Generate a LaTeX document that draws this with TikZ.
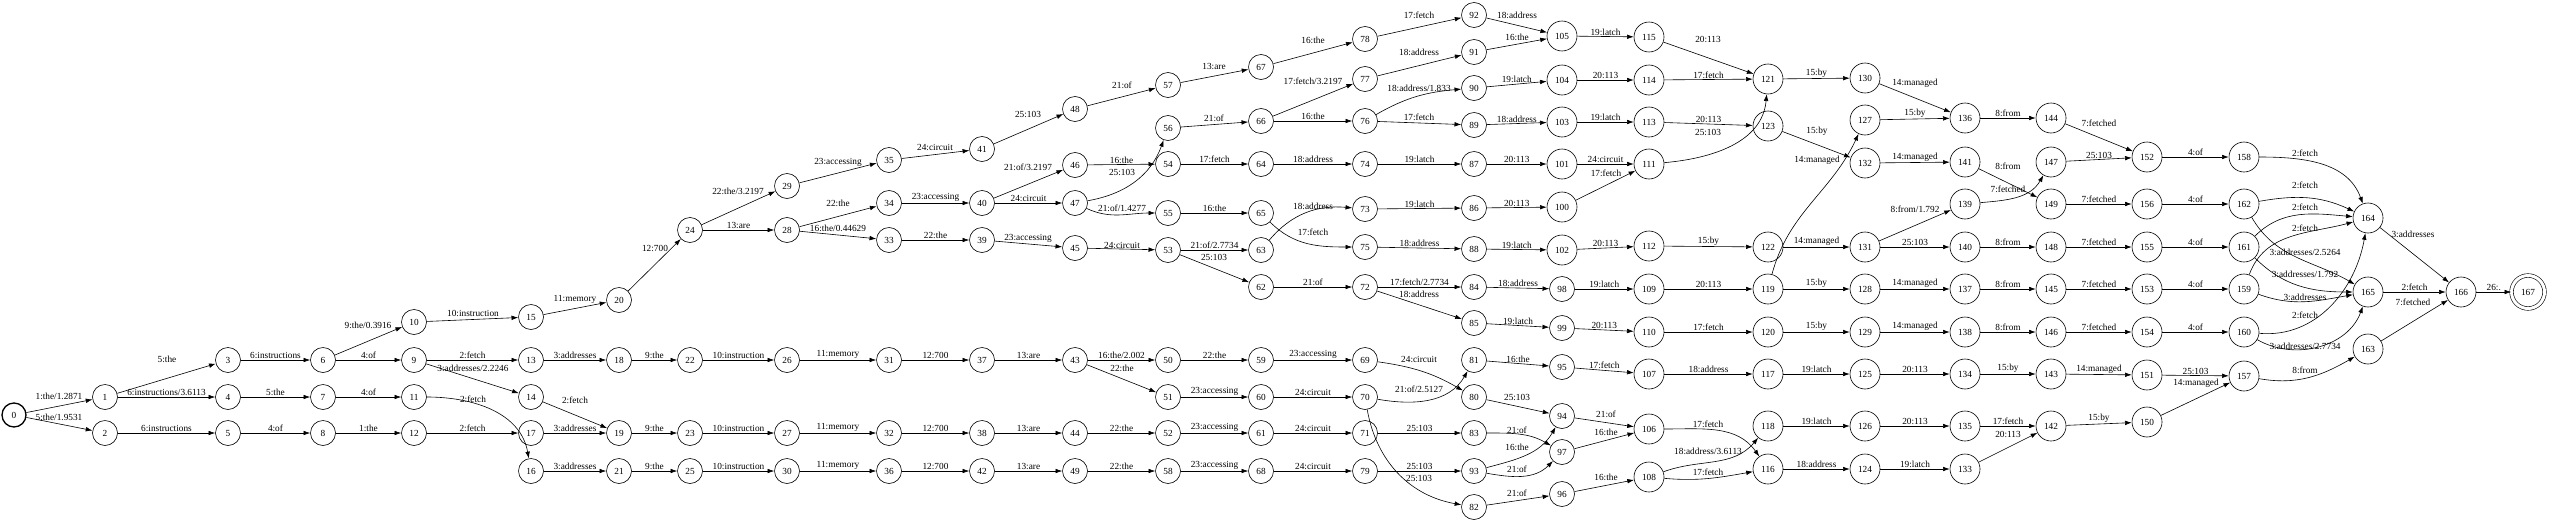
\documentclass[tikz,border=0pt]{standalone}
\usepackage{fontspec}
\setmainfont{Liberation Serif}
\usetikzlibrary{arrows.meta}
\begin{document}
\begin{tikzpicture}[x=1pt,y=1pt,>={Latex[length=6.7pt,width=4.6pt]},line width=0.6pt,
  st/.style={draw,circle,inner sep=0pt,minimum size=25pt,font=\fontsize{9.3}{11}\selectfont},
  lbl/.style={inner sep=1pt,font=\fontsize{9.3}{11}\selectfont}]
\useasboundingbox (0,0) rectangle (2550,-530);
\node[st,minimum size=24pt,line width=1.3pt] (s0) at (14,-415) {0};
\foreach \k/\x/\y in {1/105/397, 2/105/433, 3/228/360, 4/228/397, 5/228/433, 6/323/360, 7/323/397, 8/323/433,
  9/414/360, 10/414/322, 11/414/397, 12/414/433, 13/531/360, 14/531/397, 15/531/317, 16/531/471, 17/531/433,
  18/619/360, 19/619/433, 20/619/300, 21/619/471, 22/690/360, 23/690/433, 24/690/230, 25/690/471,
  26/787/360, 27/787/433, 28/787/230, 29/787/186, 30/787/471, 31/889/360, 32/889/433, 33/889/240, 34/889/203,
  35/889/160, 36/889/471, 37/982/360, 38/982/433, 39/982/240, 40/982/203, 41/982/149, 42/982/471,
  43/1075/360, 44/1075/433, 45/1075/248, 46/1075/165, 47/1075/203, 48/1075/109, 49/1075/471,
  50/1168/360, 51/1168/397, 52/1168/433, 53/1168/250, 54/1168/164, 55/1168/213, 56/1168/128, 57/1168/85, 58/1168/471,
  59/1261/360, 60/1261/397, 61/1261/433, 62/1261/287, 63/1261/250, 64/1261/164, 65/1261/213, 66/1261/121, 67/1261/67, 68/1261/471,
  69/1365/360, 70/1365/397, 71/1365/433, 72/1365/287, 73/1365/209, 74/1365/164, 75/1365/247, 76/1365/121, 77/1365/79, 78/1365/39, 79/1365/471,
  80/1474/397, 81/1474/360, 82/1474/507, 83/1474/433, 84/1474/287, 85/1474/323, 86/1474/208, 87/1474/164, 88/1474/249,
  89/1474/125, 90/1474/88, 91/1474/52, 92/1474/15, 93/1474/471,
  94/1562/416, 95/1562/367, 96/1562/494, 97/1562/452, 98/1562/289, 99/1562/328, 100/1562/207, 101/1562/164, 102/1562/250,
  103/1562/122, 104/1562/80, 105/1562/36,
  106/1649/429, 107/1649/374, 108/1649/477, 109/1649/289, 110/1649/332, 111/1649/164, 112/1649/246, 113/1649/122, 114/1649/80, 115/1649/37,
  116/1768/469, 117/1768/374, 118/1768/426, 119/1768/289, 120/1768/332, 121/1768/79, 122/1768/247, 123/1768/126,
  124/1865/469, 125/1865/374, 126/1865/426, 127/1865/120, 128/1865/289, 129/1865/332, 130/1865/78, 131/1865/247, 132/1865/163,
  133/1965/469, 134/1965/374, 135/1965/426, 136/1965/118, 137/1965/289, 138/1965/332, 139/1965/204, 140/1965/247, 141/1965/162,
  142/2051/426, 143/2051/374, 144/2051/118, 145/2051/289, 146/2051/332, 147/2051/162, 148/2051/247, 149/2051/204,
  150/2147/422, 151/2147/375, 152/2147/157, 153/2147/289, 154/2147/332, 155/2147/247, 156/2147/204,
  157/2244/376, 158/2244/157, 159/2244/289, 160/2244/332, 161/2244/247, 162/2244/204,
  163/2368/349, 164/2368/218, 165/2368/292, 166/2461/292}{
  \ifnum\k>99
    \node[st,minimum size=30pt] (s\k) at (\x,-\y) {\k};
  \else
    \node[st] (s\k) at (\x,-\y) {\k};
  \fi
}
\node[st,minimum size=33pt,double,double distance=3pt] (s167) at (2528,-292) {167};
\foreach \a/\b/\t in {1/4/{6:instructions/3.6113}, 2/5/6:instructions, 3/6/6:instructions, 4/7/5:the, 5/8/4:of,
  6/9/4:of, 7/11/4:of, 8/12/1:the, 9/13/2:fetch, 12/17/2:fetch, 13/18/3:addresses, 17/19/3:addresses, 16/21/3:addresses,
  18/22/9:the, 19/23/9:the, 21/25/9:the, 22/26/10:instruction, 23/27/10:instruction, 25/30/10:instruction,
  26/31/11:memory, 27/32/11:memory, 30/36/11:memory, 31/37/12:700, 32/38/12:700, 36/42/12:700,
  37/43/13:are, 38/44/13:are, 42/49/13:are, 24/28/13:are, 33/39/22:the, 34/40/23:accessing, 40/47/24:circuit,
  43/50/{16:the/2.002}, 44/52/22:the, 49/58/22:the, 50/59/22:the, 51/60/23:accessing, 52/61/23:accessing,
  58/68/23:accessing, 59/69/23:accessing, 60/70/24:circuit, 61/71/24:circuit, 68/79/24:circuit, 71/83/25:103,
  79/93/25:103, 46/54/16:the, 54/64/17:fetch, 55/65/16:the, 53/63/{21:of/2.7734}, 62/72/21:of, 66/76/16:the,
  64/74/18:address, 74/87/19:latch, 87/101/20:113, 101/111/24:circuit, 73/86/19:latch, 86/100/20:113,
  75/88/18:address, 88/102/19:latch, 102/112/20:113, 72/84/{17:fetch/2.7734}, 84/98/18:address, 98/109/19:latch,
  85/99/19:latch, 99/110/20:113, 81/95/16:the, 95/107/17:fetch, 89/103/18:address, 103/113/19:latch,
  90/104/19:latch, 104/114/20:113, 105/115/19:latch, 114/121/17:fetch, 113/123/20:113, 121/130/15:by,
  127/136/15:by, 132/141/14:managed, 136/144/8:from, 112/122/15:by, 122/131/14:managed, 131/140/25:103,
  140/148/8:from, 109/119/20:113, 119/128/15:by, 128/137/14:managed, 137/145/8:from, 110/120/17:fetch,
  120/129/15:by, 129/138/14:managed, 138/146/8:from, 107/117/18:address, 117/125/19:latch, 125/134/20:113,
  134/143/15:by, 118/126/19:latch, 126/135/20:113, 135/142/17:fetch, 116/124/18:address, 124/133/19:latch,
  147/152/25:103, 149/156/7:fetched, 148/155/7:fetched, 145/153/7:fetched, 146/154/7:fetched,
  143/151/14:managed, 142/150/15:by, 152/158/4:of, 156/162/4:of, 155/161/4:of, 153/159/4:of, 154/160/4:of,
  151/157/25:103, 165/166/2:fetch, 166/167/26:.}
  \draw[->] (s\a) -- (s\b) node[lbl,midway,above] {\t};
\foreach \a/\b/\t/\u/\v in {0/1/{1:the/1.2871}/59/396, 0/2/{5:the/1.9531}/59/417, 1/3/5:the/167/359,
  6/10/{9:the/0.3916}/368/325, 9/14/{3:addresses/2.2246}/473/368, 14/19/2:fetch/575/400,
  10/15/10:instruction/473/313, 15/20/11:memory/575/299, 20/24/12:700/655/248, 24/29/{22:the/3.2197}/738/191,
  28/34/22:the/838/203, 28/33/{16:the/0.44629}/838/228, 29/35/23:accessing/838/162, 35/41/24:circuit/935/147,
  41/48/25:103/1028/114, 48/57/21:of/1122/85, 40/46/{21:of/3.2197}/1028/167, 39/45/23:accessing/1028/238,
  45/53/24:circuit/1122/245, 43/51/22:the/1122/368, 57/67/13:are/1214/66, 56/66/21:of/1214/118,
  53/62/25:103/1214/257, 67/78/16:the/1313/40, 78/92/17:fetch/1419/15, 77/91/18:address/1419/52,
  66/77/{17:fetch/3.2197}/1313/81, 76/89/17:fetch/1419/117, 72/85/18:address/1419/294,
  92/105/18:address/1517/15, 91/105/16:the/1517/37, 100/111/17:fetch/1606/173, 80/94/25:103/1517/397,
  82/96/21:of/1517/493, 94/106/21:of/1606/414, 97/106/16:the/1606/432, 96/108/16:the/1606/477,
  115/121/20:113/1708/39, 123/132/15:by/1817/131, 130/136/14:managed/1915/83, 141/149/8:from/2008/166,
  131/139/{8:from/1.792}/1915/209, 133/142/20:113/2008/434, 144/152/7:fetched/2099/123,
  150/157/14:managed/2196/383, 164/166/3:addresses/2413/234, 163/166/7:fetched/2413/302}
  \draw[->] (s\a) -- (s\b) node[lbl] at (\u,-\v) {\t};
\foreach \a/\b/\o/\i/\t/\u/\v in {11/16/0/100/2:fetch/473/399, 47/56/10/-110/25:103/1122/172,
  47/55/-25/180/{21:of/1.4277}/1122/208, 63/73/50/175/18:address/1313/206, 65/75/-45/180/17:fetch/1313/232,
  69/80/-8/150/24:circuit/1419/359, 70/81/-10/-120/{21:of/2.5127}/1419/389, 70/82/-80/170/25:103/1419/478,
  83/97/0/150/21:of/1517/430, 93/94/15/-120/16:the/1517/447, 93/97/-10/-135/21:of/1517/469,
  76/90/30/185/{18:address/1.833}/1419/88, 111/121/5/-95/25:103/1708/132, 119/127/75/-115/14:managed/1817/160,
  139/147/5/-120/7:fetched/2008/189, 106/116/0/125/17:fetch/1708/424, 108/118/20/-130/{18:address/3.6113}/1708/451,
  108/116/-5/190/17:fetch/1708/472, 158/164/0/110/2:fetch/2305/153, 162/164/10/155/2:fetch/2305/185,
  161/164/45/175/2:fetch/2305/207, 159/164/70/195/2:fetch/2305/228, 162/165/-60/150/{3:addresses/2.5264}/2305/252,
  161/165/-45/180/{3:addresses/1.792}/2305/274, 159/165/-20/190/3:addresses/2305/297, 160/164/-5/-100/2:fetch/2305/315,
  160/165/-30/-110/{3:addresses/2.7734}/2305/346, 157/163/-10/210/8:from/2305/370}
  \draw[->] (s\a) to[out=\o,in=\i] (s\b) node[lbl] at (\u,-\v) {\t};
\end{tikzpicture}
\end{document}
